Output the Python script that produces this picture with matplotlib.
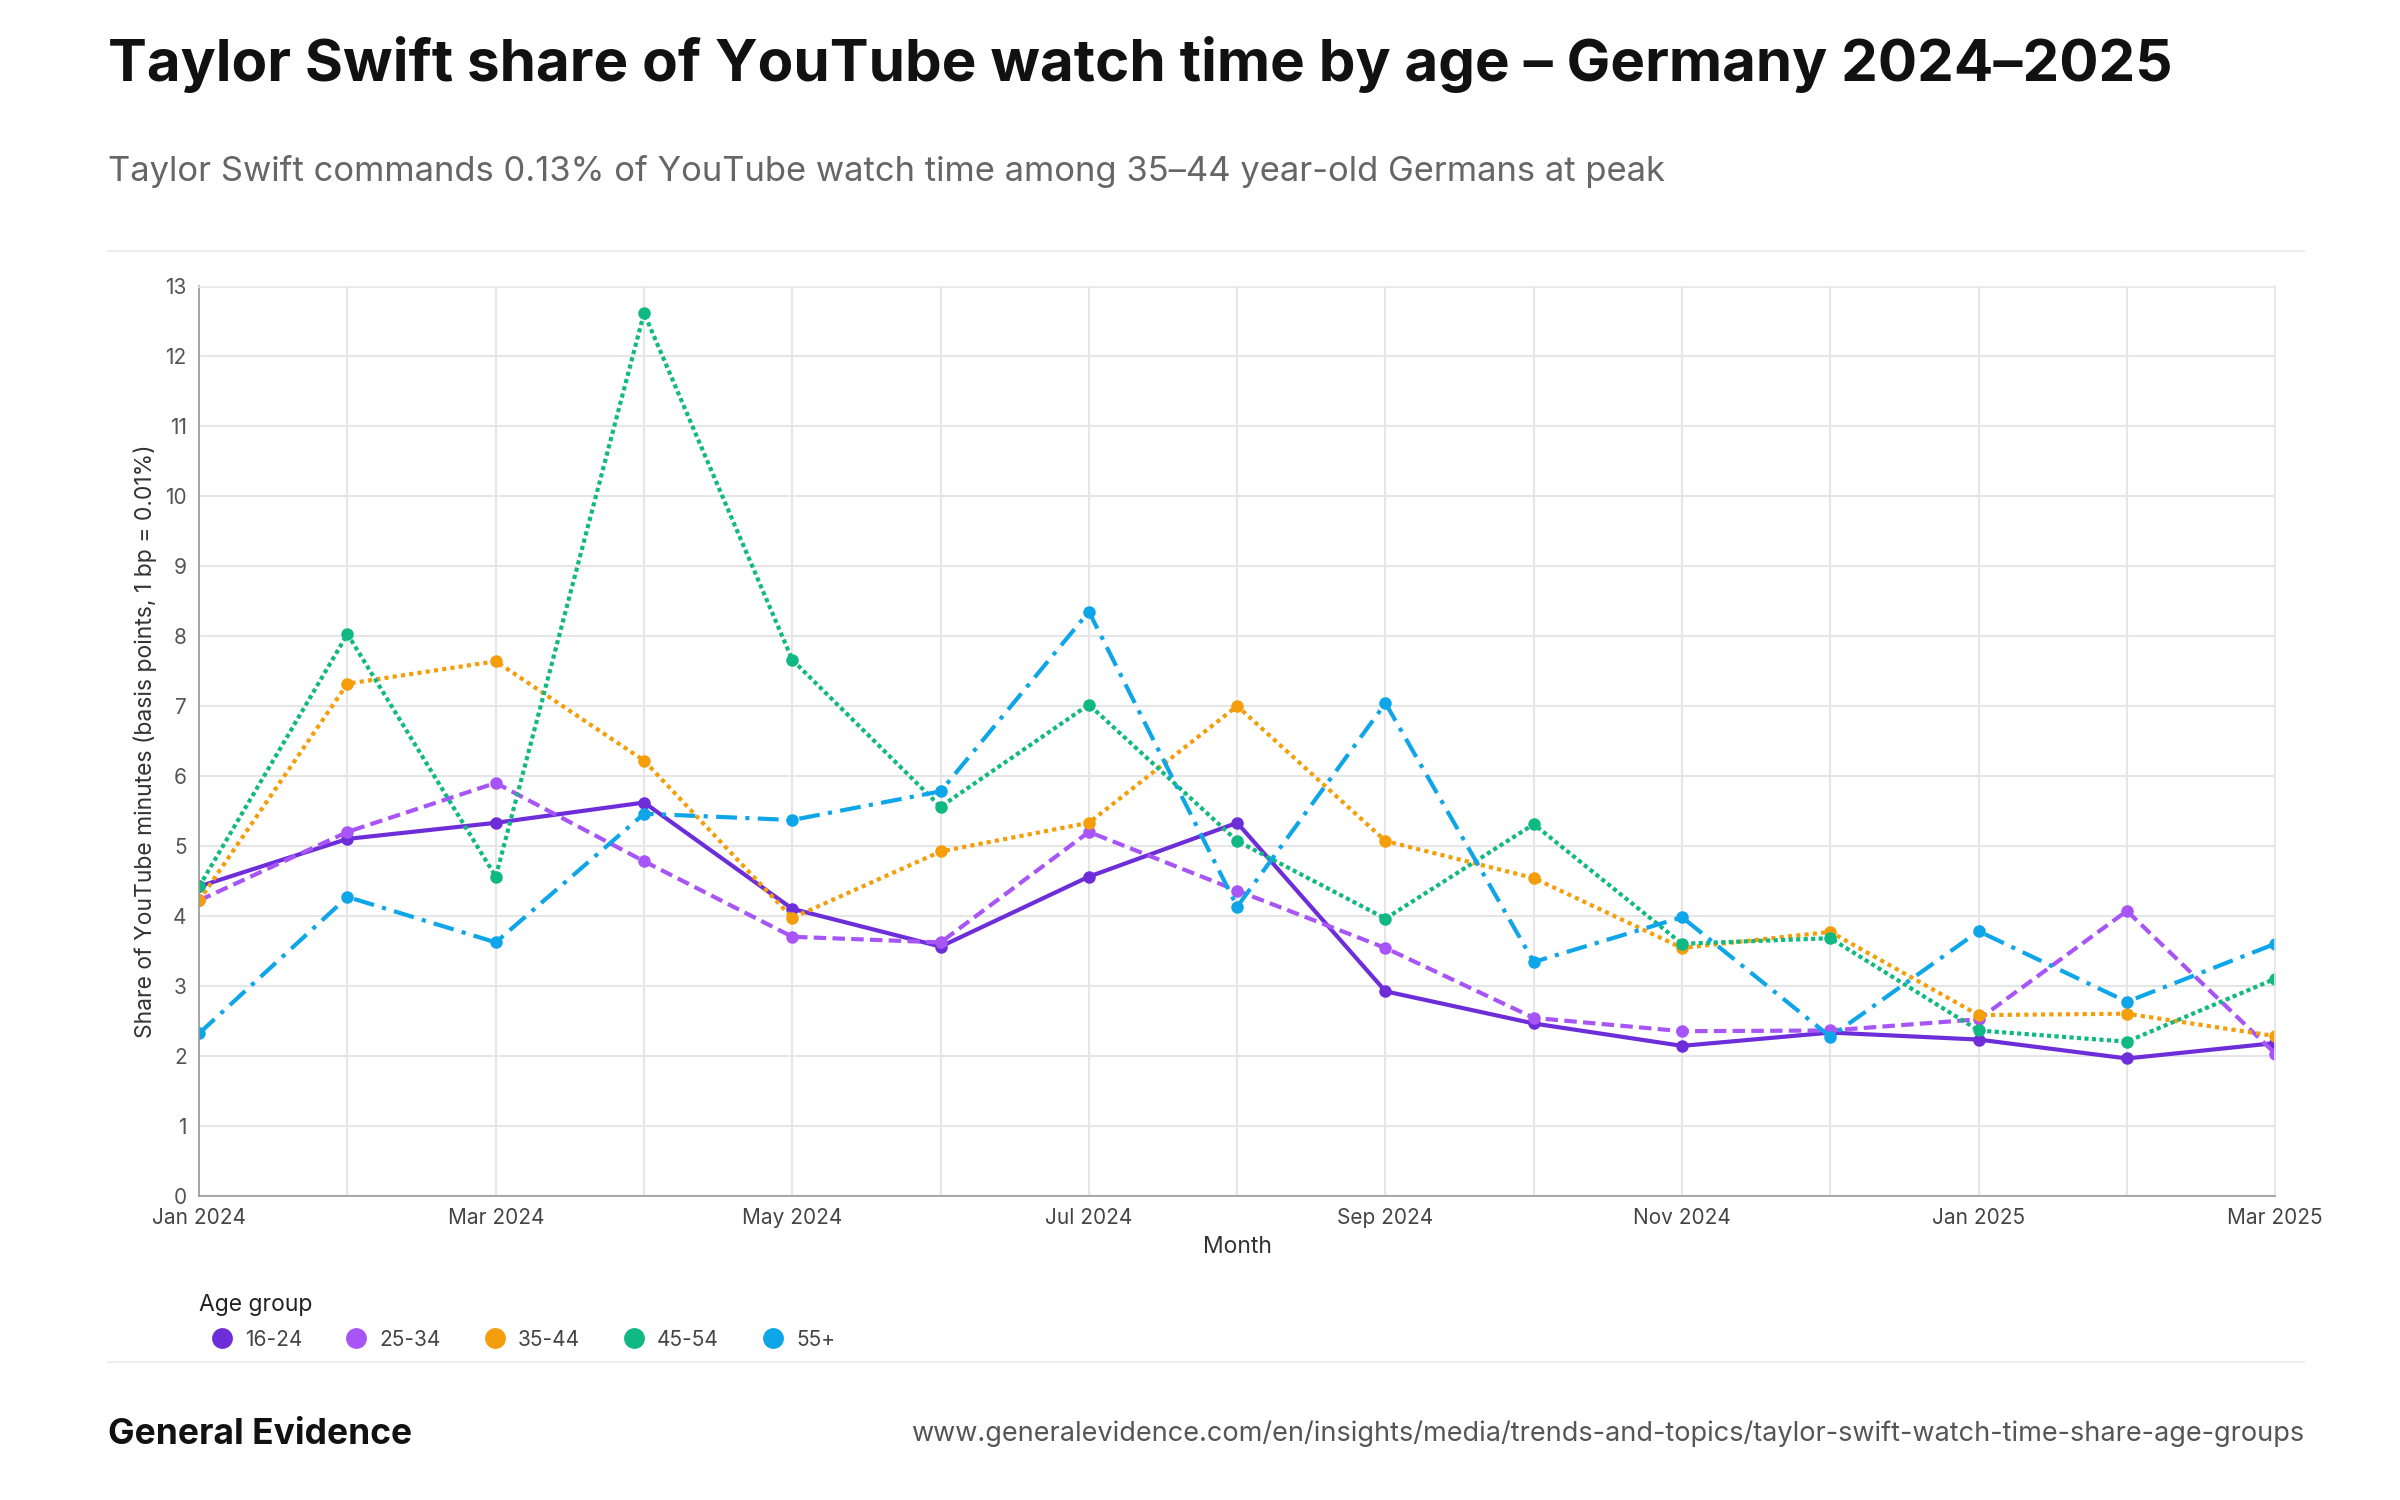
import matplotlib
matplotlib.use("Agg")
import matplotlib.pyplot as plt
from matplotlib.lines import Line2D

months = ["Jan 2024","Feb 2024","Mar 2024","Apr 2024","May 2024","Jun 2024","Jul 2024","Aug 2024",
          "Sep 2024","Oct 2024","Nov 2024","Dec 2024","Jan 2025","Feb 2025","Mar 2025"]
groups = ["16-24","25-34","35-44","45-54","55+"]
v_16_24 = [4.42,5.10,5.33,5.62,4.10,3.56,4.56,5.33,2.92,2.46,2.14,2.33,2.23,1.96,2.18]
v_25_34 = [4.22,5.20,5.90,4.78,3.70,3.62,5.20,4.36,3.54,2.54,2.35,2.36,2.52,4.07,2.03]
v_35_44 = [4.22,7.32,7.64,6.22,3.97,4.92,5.33,7.00,5.07,4.54,3.54,3.77,2.58,2.60,2.28]
v_45_54 = [4.42,8.03,4.56,12.62,7.66,5.56,7.02,5.07,3.96,5.31,3.60,3.68,2.36,2.20,3.10]
v_55p   = [2.32,4.27,3.62,5.46,5.37,5.78,8.35,4.13,7.04,3.34,3.98,2.27,3.78,2.77,3.60]
series = [v_16_24, v_25_34, v_35_44, v_45_54, v_55p]
colors = ["#6D2ED9","#A855F7","#F59E0B","#10B981","#0EA5E9"]
styles = ["-", (0,(3,1.5)), (0,(1,1)), (0,(1,0.8)), (0,(5,2,1,2))]

plt.rcParams['font.family'] = ['Inter','DejaVu Sans']
fig = plt.figure(figsize=(16,10), dpi=150)
ax = fig.add_axes([0.083,0.203,0.865,0.606])
x = list(range(len(months)))
for s,c,ls,g in zip(series,colors,styles,groups):
    ax.plot(x, s, color=c, linestyle=ls, lw=2, marker='o', ms=5, label=g)
ax.set_xlim(0,len(months)-1)
ax.set_ylim(0,13)
ax.set_yticks(range(0,14))
ax.set_xticks(x)
ax.set_xticklabels([m if i%2==0 else "" for i,m in enumerate(months)])
ax.grid(True, color="#e6e6e6", lw=1)
ax.set_axisbelow(True)
for sp in ["top","right"]:
    ax.spines[sp].set_color("#e6e6e6")
for sp in ["left","bottom"]:
    ax.spines[sp].set_color("#999999")
ax.tick_params(labelsize=10, colors="#555555", length=0, pad=6)
ax.tick_params(axis='x', labelcolor="#444444")
ax.set_xlabel("Month", fontsize=11, color="#333333")
ax.set_ylabel("Share of YouTube minutes (basis points, 1 bp = 0.01%)", fontsize=11, color="#333333")

fig.text(0.045,0.957,"Taylor Swift share of YouTube watch time by age – Germany 2024–2025",
         fontsize=28, fontweight='bold', va='center', color="#111111")
fig.text(0.045,0.886,"Taylor Swift commands 0.13% of YouTube watch time among 35–44 year-old Germans at peak",
         fontsize=16.6, va='center', color="#666666")
fig.add_artist(Line2D([0.045,0.96],[0.833,0.833], color="#eeeeee", lw=1))
fig.add_artist(Line2D([0.045,0.96],[0.092,0.092], color="#eeeeee", lw=1))
fig.text(0.083,0.13,"Age group", fontsize=11, va='center', color="#222222")
handles = [Line2D([],[],color=c, marker='o', ls='none', ms=9) for c in colors]
fig.legend(handles, groups, loc='center left', bbox_to_anchor=(0.076,0.107), ncol=5, frameon=False,
           fontsize=10, handletextpad=0.1, columnspacing=1.6, labelcolor="#444444")
fig.text(0.045,0.044,"General Evidence", fontsize=17, fontweight='bold', va='center', color="#111111")
fig.text(0.96,0.044,"www.generalevidence.com/en/insights/media/trends-and-topics/taylor-swift-watch-time-share-age-groups",
         fontsize=13, va='center', ha='right', color="#555555")
fig.savefig("out.png", dpi=150)
